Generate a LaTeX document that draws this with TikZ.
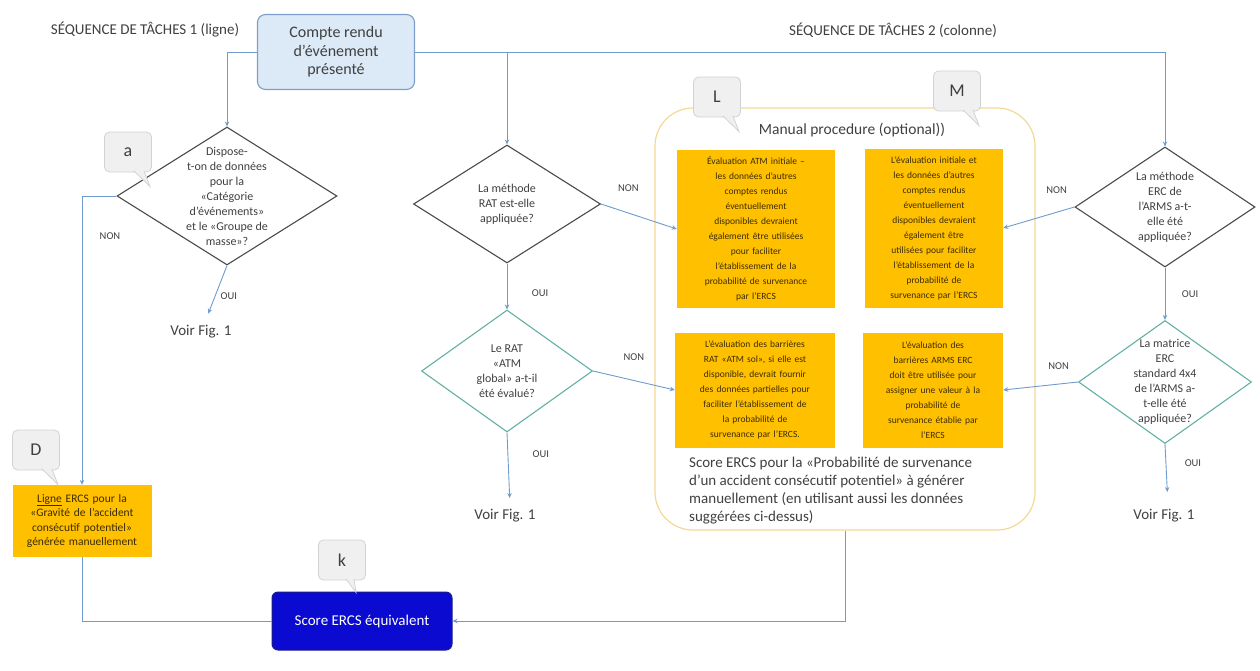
\documentclass[tikz,border=0pt]{standalone}
\usepackage{fontspec}
\setmainfont{Carlito}
\usetikzlibrary{arrows.meta,positioning,shapes.geometric,calc}
\definecolor{wire}{HTML}{6F9CCC}
\definecolor{inkgray}{HTML}{404040}
\definecolor{diadark}{HTML}{4A4A4A}
\definecolor{diateal}{HTML}{62B0A4}
\definecolor{gold}{HTML}{FFC000}
\definecolor{goldink}{HTML}{3B2C00}
\definecolor{startfill}{HTML}{DCE9F6}
\definecolor{startline}{HTML}{7E9FCB}
\definecolor{scoreblue}{HTML}{0A0AD0}
\definecolor{scoreline}{HTML}{1C1C8C}
\definecolor{procline}{HTML}{F4D995}
\definecolor{tagfill}{HTML}{F0F0F0}
\definecolor{tagline}{HTML}{D2D2D2}
\tikzset{
  evbox/.style={
    draw=startline, fill=startfill, rounded corners=8pt, line width=1.1pt,
    minimum width=157pt, minimum height=75pt, align=center, text=inkgray,
    font=\fontsize{16}{18.5}\selectfont,
  },
  dia/.style={diamond, draw=#1, line width=1.1pt, inner sep=0pt},
  diatxt/.style={align=center, text=inkgray, font=\fontsize{12}{15}\selectfont},
  taskbox/.style={fill=gold, text=goldink, align=center, inner sep=3pt,
    font=\fontsize{9.5}{15}\selectfont},
  procbox/.style={draw=procline, line width=1.2pt, rounded corners=38pt},
  tagbox/.style={draw=tagline, fill=tagfill, rounded corners=5pt, line width=0.8pt,
    minimum width=47pt, minimum height=40pt, text=inkgray,
    font=\fontsize{18}{18}\selectfont},
  tagtail/.style={fill=tagfill, draw=tagline, line width=0.8pt},
  conn/.style={-{Stealth[length=5pt,width=4.5pt]}, draw=wire, line width=0.9pt},
  plainwire/.style={draw=wire, line width=0.9pt},
  lbl/.style={text=inkgray, font=\fontsize{10.5}{12}\selectfont},
  seqhead/.style={text=inkgray, font=\fontsize{15}{17}\selectfont},
  voir/.style={text=inkgray, font=\fontsize{15}{17}\selectfont},
}
\begin{document}
\begin{tikzpicture}[x=1pt, y=-1pt]
  \useasboundingbox (0,0) rectangle (1260,670);

  % headings and start
  \node[seqhead] (seqone) at (145,30) {SÉQUENCE DE TÂCHES 1 (ligne)};
  \node[seqhead] (seqtwo) at (893,30) {SÉQUENCE DE TÂCHES 2 (colonne)};
  \node[evbox] (event) at (336,52) {Compte rendu\\d’événement\\présenté};

  % decisions
  \node[dia=diadark, minimum width=220pt, minimum height=138pt,
        label={[diatxt]center:{Dispose-\\t-on de données\\pour la\\«Catégorie\\d’événements»\\et le «Groupe de\\masse»?}}]
        (qcat) at (227,196) {};
  \node[dia=diadark, minimum width=187pt, minimum height=118pt,
        label={[diatxt]center:{La méthode\\RAT est-elle\\appliquée?}}]
        (qrat) at (507,204) {};
  \node[dia=diateal, minimum width=171pt, minimum height=122pt,
        label={[diatxt]center:{Le RAT\\«ATM\\global» a-t-il\\été évalué?}}]
        (qratatm) at (507,371) {};
  \node[dia=diadark, minimum width=180pt, minimum height=120pt,
        label={[diatxt]center:{La méthode\\ERC de\\l’ARMS a-t-\\elle été\\appliquée?}}]
        (qerc) at (1165,207) {};
  \node[dia=diateal, minimum width=173pt, minimum height=123pt,
        label={[diatxt]center:{La matrice\\ERC\\standard 4x4\\de l’ARMS a-\\t-elle été\\appliquée?}}]
        (qmat) at (1165,382) {};

  % manual procedure
  \node[procbox, minimum width=380pt, minimum height=422pt] (manual) at (845,319) {};
  \node[text=inkgray, font=\fontsize{15.5}{17}\selectfont] (manualtitle) at (852,130)
    {Manual procedure (optional))};

  \node[taskbox, text width=152pt, minimum height=158pt] (tatm) at (756,229)
    {Évaluation ATM initiale –\\les données d’autres\\comptes rendus\\éventuellement\\disponibles devraient\\également être utilisées\\pour faciliter\\l’établissement de la\\probabilité de survenance\\par l’ERCS};
  \node[taskbox, text width=132pt, minimum height=159pt] (tinit) at (934,228)
    {L’évaluation initiale et\\les données d’autres\\comptes rendus\\éventuellement\\disponibles devraient\\également être\\utilisées pour faciliter\\l’établissement de la\\probabilité de\\survenance par l’ERCS};
  \node[taskbox, text width=154pt, minimum height=115pt] (tsol) at (755,390)
    {L’évaluation des barrières\\RAT «ATM sol», si elle est\\disponible, devrait fournir\\des données partielles pour\\faciliter l’établissement de\\la probabilité de\\survenance par l’ERCS.};
  \node[taskbox, text width=134pt, minimum height=115pt] (tarms) at (933,390)
    {L’évaluation des\\barrières ARMS ERC\\doit être utilisée pour\\assigner une valeur à la\\probabilité de\\survenance établie par\\l’ERCS};

  \node[anchor=north west, inner sep=0pt, align=left, text=inkgray,
        font=\fontsize{15}{18}\selectfont] (manualscore) at (689,457)
    {Score ERCS pour la «Probabilité de survenance\\d’un accident consécutif potentiel» à générer\\manuellement (en utilisant aussi les données\\suggérées ci-dessus)};

  % severity line and result
  \node[taskbox, text width=133pt, minimum height=72pt,
        font=\fontsize{11.5}{14.5}\selectfont] (dline) at (82,521)
    {\underline{Ligne} ERCS pour la\\«Gravité de l’accident\\consécutif potentiel»\\générée manuellement};
  \node[draw=scoreline, fill=scoreblue, rounded corners=6pt, line width=1pt,
        minimum width=180pt, minimum height=58pt, text=white,
        font=\fontsize{15}{17}\selectfont] (score) at (362,621) {Score ERCS équivalent};

  \node[voir] (voirA) at (201,332) {Voir Fig. 1};
  \node[voir] (voirB) at (505,516) {Voir Fig. 1};
  \node[voir] (voirC) at (1164,516) {Voir Fig. 1};

  % connectors
  \draw[conn] (event.west) -| (qcat.north);
  \draw[conn] (event.east) -| (qerc.north);
  \draw[conn] (event.east -| qrat.north) -- (qrat.north);

  \draw[conn] (qcat.west) -| node[lbl, pos=.57, xshift=28pt]{NON} (dline.north);
  \draw[conn, shorten >=9pt] (qcat.south) -- node[lbl, pos=.55, xshift=14pt]{OUI} ([xshift=4pt]voirA.north);

  \draw[conn] (qrat.east) -- node[lbl, pos=.36, yshift=25pt]{NON} (tatm.west);
  \draw[conn] (qrat.south) -- node[lbl, pos=.64, xshift=33pt]{OUI} (qratatm.north);
  \draw[conn] (qratatm.east) -- node[lbl, pos=.5, yshift=23pt]{NON} (tsol.west);
  \draw[conn, shorten >=8pt] (qratatm.south) -- node[lbl, pos=.3, xshift=33pt]{OUI} ([xshift=5pt]voirB.north);

  \draw[conn] (qerc.west) -- node[lbl, pos=.25, yshift=22pt]{NON} (tinit.east);
  \draw[conn] (qerc.south) -- node[lbl, pos=.5, xshift=25pt]{OUI} (qmat.north);
  \draw[conn] (qmat.west) -- node[lbl, pos=.26, yshift=18pt]{NON} (tarms.east);
  \draw[conn, shorten >=14pt] (qmat.south) -- node[lbl, pos=.3, xshift=27pt]{OUI} ([xshift=4pt]voirC.north);

  \draw[plainwire] (dline.south) |- (score.west);
  \draw[conn] (manual.south) |- (score.east);

  % callout tags
  \node[tagbox] (taga) at (128,152) {a};
  \node[tagbox] (tagl) at (717,97) {L};
  \node[tagbox] (tagm) at (957,91) {M};
  \node[tagbox] (tagd) at (36,450) {D};
  \node[tagbox] (tagk) at (342,560) {k};
  \foreach \t in {taga,tagl,tagm,tagd}
    \filldraw[tagtail] ($(\t.south east)+(-18,-1.5)$) -- ($(\t.south east)+(-2,14)$)
      -- ($(\t.south east)+(-8,-1.5)$);
  \filldraw[tagtail] ($(tagk.south)+(4,-1.5)$) -- ($(tagk.south)+(14,12)$)
    -- ($(tagk.south)+(12,-1.5)$);

\end{tikzpicture}
\end{document}
